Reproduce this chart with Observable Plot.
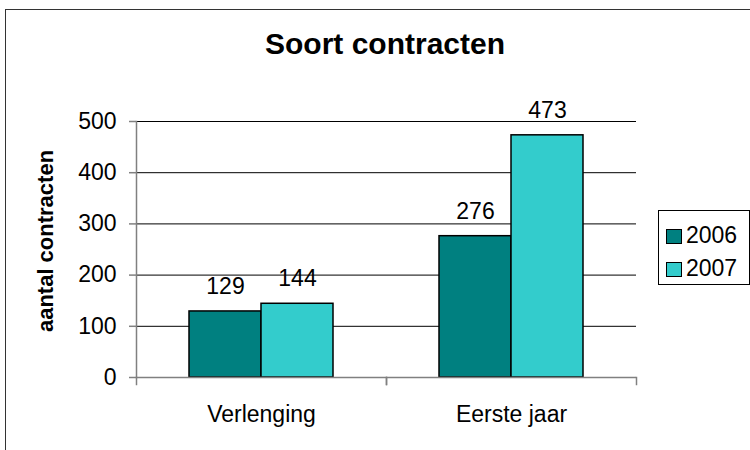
<!DOCTYPE html>
<html>
<head>
<meta charset="utf-8">
<script src="https://cdn.jsdelivr.net/npm/d3@7"></script>
<script src="https://cdn.jsdelivr.net/npm/@observablehq/plot@0.6"></script>
<style>
  html, body { margin: 0; padding: 0; background: #fff; }
  #wrap { position: relative; width: 750px; height: 450px; overflow: hidden; font-family: "Liberation Sans", Arial, sans-serif; }
  #border { position: absolute; left: 5px; top: 9px; width: 760px; height: 460px; border: 1.5px solid #333; box-sizing: border-box; }
  #title { position: absolute; left: 0; width: 770px; top: 29px; text-align: center; font-weight: bold; font-size: 30px; color: #000; line-height: 1; }
  #ytitle { position: absolute; left: 46px; top: 241px; transform: translate(-50%, -50%) rotate(-90deg); font-weight: bold; font-size: 22px; white-space: nowrap; line-height: 1; }
  #legend { position: absolute; left: 658px; top: 210px; width: 92px; height: 75px; border: 1.5px solid #000; box-sizing: border-box; background: #fff; }
  .item { position: absolute; left: 7px; font-size: 23px; line-height: 1; white-space: nowrap; }
  .sw { display: inline-block; width: 16px; height: 15px; border: 1.5px solid #000; box-sizing: border-box; vertical-align: -1px; margin-right: 4px; }
  #chart { position: absolute; left: 0; top: 0; }
</style>
</head>
<body>
<div id="wrap">
  <div id="border"></div>
  <div id="chart"></div>
  <div id="title"></div>
  <div id="ytitle"></div>
  <div id="legend"></div>
</div>
<script>
const titleText = "Soort contracten";
const yLabel = "aantal contracten";
const categories = ["Verlenging", "Eerste jaar"];
const years = ["2006", "2007"];
const values2006 = [129, 276];
const values2007 = [144, 473];
const yTicks = [0, 100, 200, 300, 400, 500];
const colors = ["#008080", "#33CCCC"];

const series = {"2006": values2006, "2007": values2007};
const data = categories.flatMap((c, i) => years.map(y => ({category: c, year: y, value: series[y][i]})));

const chart = Plot.plot({
  width: 750,
  height: 450,
  marginLeft: 135,
  marginRight: 114,
  marginTop: 121,
  marginBottom: 73,
  style: {fontFamily: "'Liberation Sans', Arial, sans-serif", fontSize: "23px", background: "transparent", color: "#000", overflow: "visible"},
  fx: {domain: categories, padding: 0, label: null},
  x: {domain: years, paddingInner: 0, paddingOuter: 0.736, axis: null},
  y: {domain: [0, 500], ticks: yTicks, label: null},
  color: {domain: years, range: colors},
  marks: [
    Plot.gridY(yTicks.filter(t => t > 0), {stroke: "#000", strokeOpacity: 1, strokeWidth: 1}),
    Plot.barY(data, {fx: "category", x: "year", y: "value", fill: "year", stroke: "#000", strokeWidth: 1.5}),
    Plot.ruleY([0], {stroke: "#808080", strokeWidth: 1.5}),
    Plot.frame({anchor: "left", stroke: "#808080", strokeWidth: 1.5, facetAnchor: "left"}),
    Plot.frame({anchor: "left", stroke: "#808080", strokeWidth: 1.5, insetTop: 256, insetBottom: -7}),
    Plot.frame({anchor: "right", stroke: "#808080", strokeWidth: 1.5, insetTop: 256, insetBottom: -7}),
    Plot.axisY({ticks: yTicks, tickSize: 7, tickPadding: 13, stroke: "#808080", strokeWidth: 1.5, label: null, fontSize: 23}),
    Plot.axisFx({anchor: "bottom", tickSize: 0, tickPadding: 28, label: null, fontSize: 23}),
    Plot.text(data, {fx: "category", x: "year", y: "value", text: d => String(d.value), dy: -25, fontSize: 23, fill: "#000"})
  ]
});
document.getElementById("chart").appendChild(chart);
document.getElementById("title").textContent = titleText;
document.getElementById("ytitle").textContent = yLabel;
const legend = document.getElementById("legend");
years.forEach((y, i) => {
  const d = document.createElement("div");
  d.className = "item";
  d.style.top = (13 + i * 33) + "px";
  d.innerHTML = `<span class="sw" style="background:${colors[i]}"></span>${y}`;
  legend.appendChild(d);
});
</script>
</body>
</html>
